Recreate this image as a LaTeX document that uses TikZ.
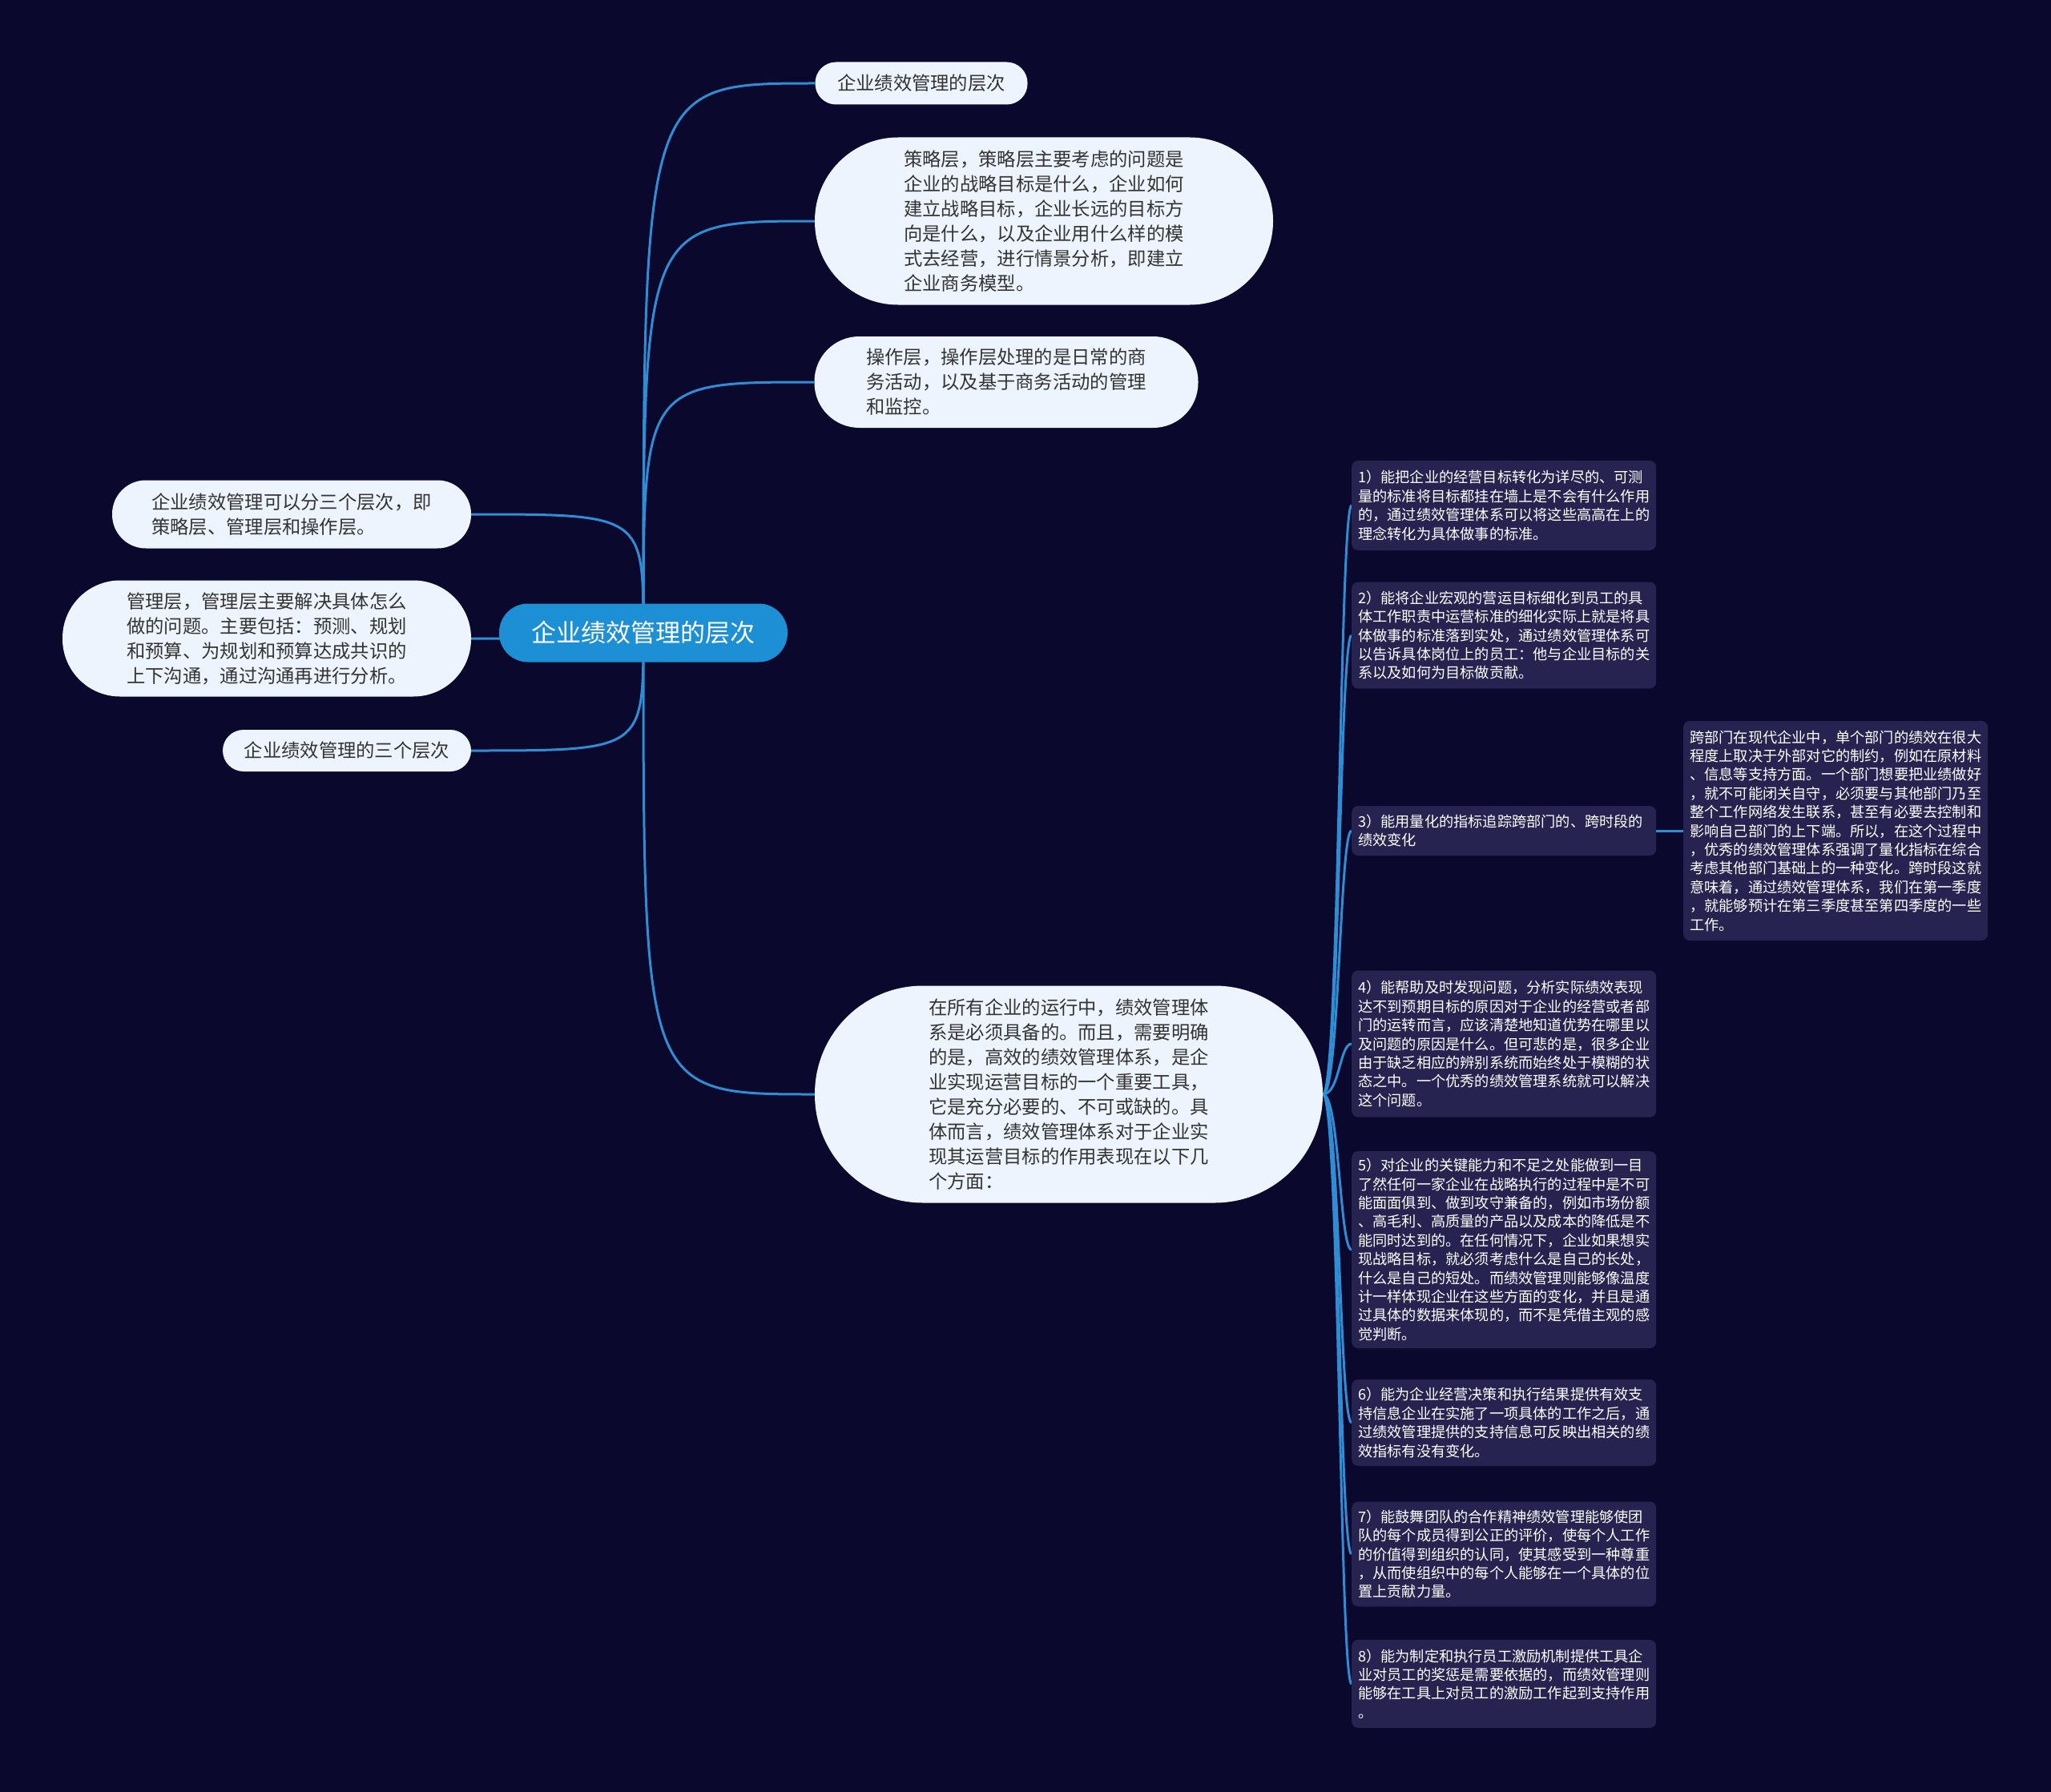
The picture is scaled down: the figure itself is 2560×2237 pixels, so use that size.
\documentclass[tikz,border=0pt]{standalone}
\usepackage{fontspec}
\setmainfont{Noto Sans CJK SC}
\pgfdeclarelayer{bg}
\pgfsetlayers{bg,main}
\definecolor{bgcol}{HTML}{0A092D}
\definecolor{darkfill}{HTML}{262350}
\definecolor{lightfill}{HTML}{EEF4FD}
\definecolor{rootcol}{HTML}{1D8FD4}
\definecolor{linecol}{HTML}{2F8DD3}
\definecolor{lighttext}{HTML}{333333}
\newcommand\lfnt{\fontsize{23.3pt}{31pt}\selectfont}
\newcommand\dfnt{\fontsize{18.2pt}{23.4pt}\selectfont}
\newcommand\rfnt{\fontsize{31pt}{36pt}\selectfont}
\begin{document}
\begin{tikzpicture}[x=1pt,y=-1pt,
  lightbox/.style={fill=lightfill, text=lighttext, font=\lfnt, align=left, inner sep=0pt},
  darkbox/.style={fill=darkfill, text=white, font=\dfnt, align=left, rounded corners=8pt,
    inner xsep=8pt, inner ysep=0pt, text width=364pt, anchor=west},
  rootbox/.style={fill=rootcol, text=white, font=\rfnt, inner sep=0pt,
    minimum width=360pt, minimum height=73pt, rounded corners=36pt},
  link/.style={draw=linecol, line width=3pt}]
\useasboundingbox (0,0) rectangle (2560,2237);
\begin{pgfonlayer}{bg}
\fill[bgcol] (0,0) rectangle (2560,2237);
\end{pgfonlayer}

% root
\node[rootbox] (root) at (803,790) {企业绩效管理的层次};

% right-upper light nodes
\node[lightbox, minimum width=265pt, minimum height=53pt, rounded corners=26pt] (t1) at (1150,104) {企业绩效管理的层次};
\node[lightbox, minimum width=572pt, minimum height=209pt, rounded corners=104pt] (t2) at (1303,276)
 {策略层，策略层主要考虑的问题是\\企业的战略目标是什么，企业如何\\建立战略目标，企业长远的目标方\\向是什么，以及企业用什么样的模\\式去经营，进行情景分析，即建立\\企业商务模型。};
\node[lightbox, minimum width=479pt, minimum height=114pt, rounded corners=56pt] (t3) at (1256,477)
 {操作层，操作层处理的是日常的商\\务活动，以及基于商务活动的管理\\和监控。};

% left nodes
\node[lightbox, minimum width=448pt, minimum height=85pt, rounded corners=42pt] (l1) at (364,642)
 {企业绩效管理可以分三个层次，即\\策略层、管理层和操作层。};
\node[lightbox, minimum width=510pt, minimum height=145pt, rounded corners=72pt] (l2) at (333,797)
 {管理层，管理层主要解决具体怎么\\做的问题。主要包括：预测、规划\\和预算、为规划和预算达成共识的\\上下沟通，通过沟通再进行分析。};
\node[lightbox, minimum width=310pt, minimum height=52pt, rounded corners=26pt] (l3) at (433,937) {企业绩效管理的三个层次};

% big node
\node[lightbox, minimum width=634pt, minimum height=271pt, rounded corners=135pt] (big) at (1334,1366)
 {在所有企业的运行中，绩效管理体\\系是必须具备的。而且，需要明确\\的是，高效的绩效管理体系，是企\\业实现运营目标的一个重要工具，\\它是充分必要的、不可或缺的。具\\体而言，绩效管理体系对于企业实\\现其运营目标的作用表现在以下几\\个方面：};

% right items
\node[darkbox, minimum height=112pt] (i1) at (1687,631)
 {1）能把企业的经营目标转化为详尽的、可测\\量的标准将目标都挂在墙上是不会有什么作用\\的，通过绩效管理体系可以将这些高高在上的\\理念转化为具体做事的标准。};
\node[darkbox, minimum height=133pt] (i2) at (1687,793)
 {2）能将企业宏观的营运目标细化到员工的具\\体工作职责中运营标准的细化实际上就是将具\\体做事的标准落到实处，通过绩效管理体系可\\以告诉具体岗位上的员工：他与企业目标的关\\系以及如何为目标做贡献。};
\node[darkbox, minimum height=62pt] (i3) at (1687,1037)
 {3）能用量化的指标追踪跨部门的、跨时段的\\绩效变化};
\node[darkbox, minimum height=274pt] (side) at (2101,1037)
 {跨部门在现代企业中，单个部门的绩效在很大\\程度上取决于外部对它的制约，例如在原材料\\、信息等支持方面。一个部门想要把业绩做好\\，就不可能闭关自守，必须要与其他部门乃至\\整个工作网络发生联系，甚至有必要去控制和\\影响自己部门的上下端。所以，在这个过程中\\，优秀的绩效管理体系强调了量化指标在综合\\考虑其他部门基础上的一种变化。跨时段这就\\意味着，通过绩效管理体系，我们在第一季度\\，就能够预计在第三季度甚至第四季度的一些\\工作。};
\node[darkbox, minimum height=183pt] (i4) at (1687,1303)
 {4）能帮助及时发现问题，分析实际绩效表现\\达不到预期目标的原因对于企业的经营或者部\\门的运转而言，应该清楚地知道优势在哪里以\\及问题的原因是什么。但可悲的是，很多企业\\由于缺乏相应的辨别系统而始终处于模糊的状\\态之中。一个优秀的绩效管理系统就可以解决\\这个问题。};
\node[darkbox, minimum height=246pt] (i5) at (1687,1560)
 {5）对企业的关键能力和不足之处能做到一目\\了然任何一家企业在战略执行的过程中是不可\\能面面俱到、做到攻守兼备的，例如市场份额\\、高毛利、高质量的产品以及成本的降低是不\\能同时达到的。在任何情况下，企业如果想实\\现战略目标，就必须考虑什么是自己的长处，\\什么是自己的短处。而绩效管理则能够像温度\\计一样体现企业在这些方面的变化，并且是通\\过具体的数据来体现的，而不是凭借主观的感\\觉判断。};
\node[darkbox, minimum height=108pt] (i6) at (1687,1776)
 {6）能为企业经营决策和执行结果提供有效支\\持信息企业在实施了一项具体的工作之后，通\\过绩效管理提供的支持信息可反映出相关的绩\\效指标有没有变化。};
\node[darkbox, minimum height=131pt] (i7) at (1687,1940)
 {7）能鼓舞团队的合作精神绩效管理能够使团\\队的每个成员得到公正的评价，使每个人工作\\的价值得到组织的认同，使其感受到一种尊重\\，从而使组织中的每个人能够在一个具体的位\\置上贡献力量。};
\node[darkbox, minimum height=110pt] (i8) at (1687,2102)
 {8）能为制定和执行员工激励机制提供工具企\\业对员工的奖惩是需要依据的，而绩效管理则\\能够在工具上对员工的激励工作起到支持作用\\。};

% connectors
\begin{pgfonlayer}{bg}
\foreach \c in {t1,t2,t3,big}
  \draw[link] (root.center) .. controls (root.center |- \c.west) .. (\c.west);
\foreach \c in {l1,l2,l3}
  \draw[link] (root.center) .. controls (root.center |- \c.east) .. (\c.east);
\coordinate (sp) at (1672,1366);
\foreach \c in {i1,i2,i3,i4,i5,i6,i7,i8}
  \draw[link] (big.east) .. controls (sp) and (sp |- \c.west) .. (\c.west);
\draw[link] (i3.east) -- (side.west);
\end{pgfonlayer}
\end{tikzpicture}
\end{document}
